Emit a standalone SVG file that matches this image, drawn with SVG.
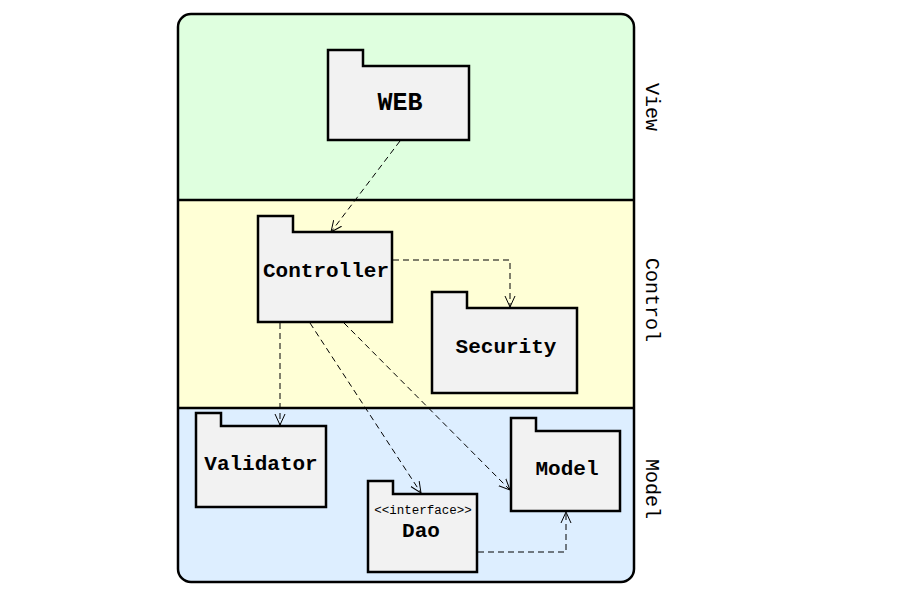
<svg xmlns="http://www.w3.org/2000/svg" width="901" height="596" viewBox="0 0 901 596">
<defs>
<style>
.pkg{fill:#F2F2F2;stroke:#000;stroke-width:2.5}
.lbl{font-family:"Liberation Mono","DejaVu Sans Mono",monospace;font-weight:bold;font-size:21px;text-anchor:middle;fill:#000}
.web{font-family:"Liberation Mono","DejaVu Sans Mono",monospace;font-weight:bold;font-size:25px;text-anchor:middle;fill:#000}
.ster{font-family:"Liberation Mono","DejaVu Sans Mono",monospace;font-size:12.5px;text-anchor:middle;fill:#000}
.side{font-family:"Liberation Mono","DejaVu Sans Mono",monospace;font-size:20px;text-anchor:middle;dominant-baseline:central;fill:#000}
.dep{fill:none;stroke:#000;stroke-width:1;stroke-dasharray:6,4;marker-end:url(#arr)}
</style>
<marker id="arr" viewBox="0 0 12 12" refX="11" refY="6" markerWidth="12" markerHeight="12" markerUnits="userSpaceOnUse" orient="auto">
<path d="M0,1 L11,6 L0,11" fill="none" stroke="#000" stroke-width="1"/>
</marker>
<clipPath id="outer"><rect x="178" y="14" width="456" height="568" rx="13" ry="13"/></clipPath>
</defs>
<g id="bands" clip-path="url(#outer)">
<rect x="178" y="14" width="456" height="186" fill="#DFFFDF"/>
<rect x="178" y="200" width="456" height="208" fill="#FFFFD6"/>
<rect x="178" y="408" width="456" height="174" fill="#DDEEFF"/>
</g>
<g id="frame" fill="none" stroke="#000" stroke-width="2.5">
<rect x="178" y="14" width="456" height="568" rx="13" ry="13"/>
<line x1="178" y1="200" x2="634" y2="200"/>
<line x1="178" y1="408" x2="634" y2="408"/>
</g>
<g id="lanes">
<text class="side" transform="translate(651,107) rotate(90)">View</text>
<text class="side" transform="translate(651,300) rotate(90)">Control</text>
<text class="side" transform="translate(651,489) rotate(90)">Model</text>
</g>
<g id="WEB">
<path class="pkg" d="M328,140 V50 H363 V66 H469 V140 Z"/>
<text class="web" x="400" y="110">WEB</text>
</g>
<g id="Controller">
<path class="pkg" d="M258,322 V216 H293 V232 H392 V322 Z"/>
<text class="lbl" x="326" y="277">Controller</text>
</g>
<g id="Security">
<path class="pkg" d="M432,393 V292 H467 V308 H577 V393 Z"/>
<text class="lbl" x="506" y="353">Security</text>
</g>
<g id="Validator">
<path class="pkg" d="M196,507 V413 H221 V426 H326 V507 Z"/>
<text class="lbl" x="261" y="470">Validator</text>
</g>
<g id="Dao">
<path class="pkg" d="M368,572 V481 H393 V494 H477 V572 Z"/>
<text class="ster" x="423" y="514">&lt;&lt;interface&gt;&gt;</text>
<text class="lbl" x="421" y="537">Dao</text>
</g>
<g id="Model">
<path class="pkg" d="M511,511 V418 H536 V431 H620 V511 Z"/>
<text class="lbl" x="567" y="475">Model</text>
</g>
<g id="connectors">
<path class="dep" d="M400,141 L331,232"/>
<path class="dep" d="M393,260 H510 V307"/>
<path class="dep" d="M280,323 V425"/>
<path class="dep" d="M310,323 L421,493"/>
<path class="dep" d="M344,323 L510,490"/>
<path class="dep" d="M478,552 H566 V512"/>
</g>
</svg>
